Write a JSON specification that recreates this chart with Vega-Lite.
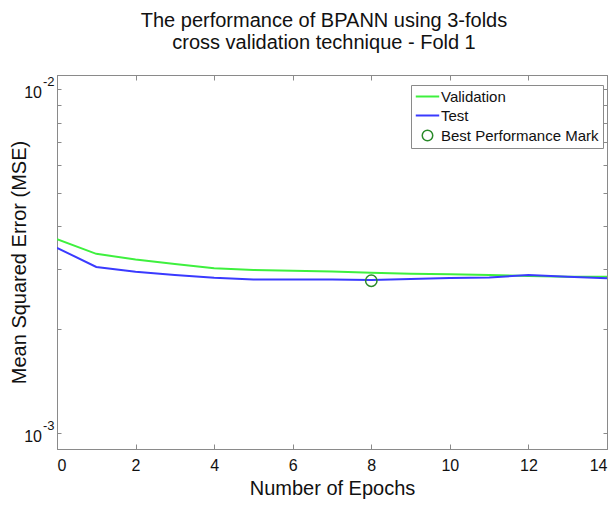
{
  "$schema": "https://vega.github.io/schema/vega-lite/v6.json",
  "autosize": "none",
  "width": 550,
  "height": 374,
  "padding": {"left": 57, "top": 75, "right": 9, "bottom": 58},
  "background": "white",
  "config": {
    "font": "Liberation Sans",
    "view": {"stroke": "#8a8a8a", "strokeWidth": 1},
    "axis": {"grid": false, "domainColor": "#8a8a8a", "tickColor": "#8a8a8a", "labelColor": "#111", "titleColor": "#111", "labelFont": "Liberation Sans", "titleFont": "Liberation Sans", "titleFontWeight": "normal"}
  },
  "title": {
    "text": ["The performance of BPANN using 3-folds", "cross validation technique - Fold 1"],
    "fontSize": 20, "fontWeight": "normal", "font": "Liberation Sans", "color": "#111",
    "anchor": "middle", "offset": 22, "dx": -8, "lineHeight": 22
  },
  "datasets": {
    "perf": [
      {"epoch": 0, "series": "Validation", "mse": 0.003664},
      {"epoch": 1, "series": "Validation", "mse": 0.003320},
      {"epoch": 2, "series": "Validation", "mse": 0.003197},
      {"epoch": 3, "series": "Validation", "mse": 0.003100},
      {"epoch": 4, "series": "Validation", "mse": 0.003012},
      {"epoch": 5, "series": "Validation", "mse": 0.002978},
      {"epoch": 6, "series": "Validation", "mse": 0.002964},
      {"epoch": 7, "series": "Validation", "mse": 0.002948},
      {"epoch": 8, "series": "Validation", "mse": 0.002924},
      {"epoch": 9, "series": "Validation", "mse": 0.002905},
      {"epoch": 10, "series": "Validation", "mse": 0.002893},
      {"epoch": 11, "series": "Validation", "mse": 0.002879},
      {"epoch": 12, "series": "Validation", "mse": 0.002860},
      {"epoch": 13, "series": "Validation", "mse": 0.002847},
      {"epoch": 14, "series": "Validation", "mse": 0.002847},
      {"epoch": 0, "series": "Test", "mse": 0.003457},
      {"epoch": 1, "series": "Test", "mse": 0.003039},
      {"epoch": 2, "series": "Test", "mse": 0.002944},
      {"epoch": 3, "series": "Test", "mse": 0.002879},
      {"epoch": 4, "series": "Test", "mse": 0.002827},
      {"epoch": 5, "series": "Test", "mse": 0.002797},
      {"epoch": 6, "series": "Test", "mse": 0.002797},
      {"epoch": 7, "series": "Test", "mse": 0.002797},
      {"epoch": 8, "series": "Test", "mse": 0.002784},
      {"epoch": 9, "series": "Test", "mse": 0.002803},
      {"epoch": 10, "series": "Test", "mse": 0.002822},
      {"epoch": 11, "series": "Test", "mse": 0.002835},
      {"epoch": 12, "series": "Test", "mse": 0.002879},
      {"epoch": 13, "series": "Test", "mse": 0.002847},
      {"epoch": 14, "series": "Test", "mse": 0.002818}
    ],
    "best": [
      {"epoch": 8, "series": "Best Performance Mark", "mse": 0.002771}
    ],
    "ylabels": [
      {"v": 0.001, "base": "10", "exp": "-3"},
      {"v": 0.01, "base": "10", "exp": "-2"}
    ]
  },
  "layer": [
    {
      "data": {"name": "perf"},
      "mark": {"type": "line", "strokeWidth": 2, "clip": true},
      "encoding": {
        "x": {
          "field": "epoch", "type": "quantitative",
          "scale": {"domain": [0, 14], "nice": false, "zero": false},
          "axis": {"orient": "bottom", "values": [0, 2, 4, 6, 8, 10, 12, 14], "tickSize": -5, "labelPadding": 13, "labelFontSize": 16, "title": "Number of Epochs", "titleFontSize": 20, "titlePadding": 5}
        },
        "y": {
          "field": "mse", "type": "quantitative",
          "scale": {"type": "log", "domain": [0.000898, 0.0110], "nice": false, "zero": false},
          "axis": {"orient": "left", "values": [0.001, 0.002, 0.003, 0.004, 0.005, 0.006, 0.007, 0.008, 0.009, 0.01], "tickSize": -4, "labels": false, "title": "Mean Squared Error (MSE)", "titleFontSize": 20, "titlePadding": 27}
        },
        "color": {
          "field": "series", "type": "nominal",
          "scale": {"domain": ["Validation", "Test", "Best Performance Mark"], "range": ["#3ef03e", "#3a3aff", "#2a8a2a"]},
          "legend": {
            "title": null, "orient": "none", "legendX": 354, "legendY": 10,
            "labelFontSize": 15, "labelColor": "#111", "labelFont": "Liberation Sans",
            "strokeColor": "#8a8a8a", "fillColor": "white", "padding": 4,
            "rowPadding": 3, "symbolSize": 625, "symbolStrokeWidth": 2,
            "symbolOffset": 5, "labelOffset": 6,
            "encode": {
              "symbols": {
                "update": {
                  "shape": {"signal": "datum.value === 'Best Performance Mark' ? 'circle' : 'stroke'"},
                  "size": {"signal": "datum.value === 'Best Performance Mark' ? 110 : 550"},
                  "fill": {"value": "transparent"},
                  "strokeWidth": {"signal": "datum.value === 'Best Performance Mark' ? 1.5 : 2"}
                }
              }
            }
          }
        }
      }
    },
    {
      "data": {"name": "best"},
      "mark": {"type": "point", "filled": false, "size": 130, "strokeWidth": 1.5, "opacity": 1},
      "encoding": {
        "x": {"field": "epoch", "type": "quantitative", "axis": null},
        "y": {"field": "mse", "type": "quantitative", "axis": null},
        "color": {"field": "series", "type": "nominal"}
      }
    },
    {
      "data": {"name": "perf"},
      "mark": {"type": "line", "opacity": 0},
      "encoding": {
        "x": {"field": "epoch", "type": "quantitative", "axis": {"orient": "top", "values": [0, 2, 4, 6, 8, 10, 12, 14], "tickSize": -5, "labels": false, "title": null}},
        "y": {"field": "mse", "type": "quantitative", "axis": {"orient": "right", "values": [0.001, 0.002, 0.003, 0.004, 0.005, 0.006, 0.007, 0.008, 0.009, 0.01], "tickSize": -4, "labels": false, "title": null}},
        "detail": {"field": "series"}
      }
    },
    {
      "data": {"name": "ylabels"},
      "mark": {"type": "text", "align": "right", "baseline": "middle", "dx": -15, "dy": 4, "fontSize": 16, "color": "#111", "font": "Liberation Sans"},
      "encoding": {
        "x": {"datum": 0, "type": "quantitative", "axis": null},
        "y": {"field": "v", "type": "quantitative", "axis": null},
        "text": {"field": "base"}
      }
    },
    {
      "data": {"name": "ylabels"},
      "mark": {"type": "text", "align": "left", "baseline": "middle", "dx": -14, "dy": -7, "fontSize": 13, "color": "#111", "font": "Liberation Sans"},
      "encoding": {
        "x": {"datum": 0, "type": "quantitative", "axis": null},
        "y": {"field": "v", "type": "quantitative", "axis": null},
        "text": {"field": "exp"}
      }
    }
  ],
  "resolve": {"axis": {"x": "independent", "y": "independent"}}
}
